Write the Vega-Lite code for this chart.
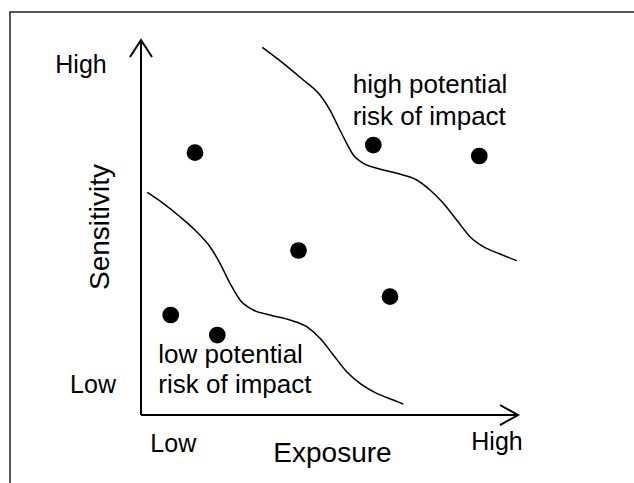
{
  "$schema": "https://vega.github.io/schema/vega-lite/v6.json",
  "width": 634,
  "height": 483,
  "autosize": "none",
  "padding": 0,
  "background": "white",
  "config": {"view": {"stroke": null}, "text": {"font": "Liberation Sans", "color": "black"}},
  "datasets": {
    "frame": [
      {"part": "frame", "i": 0, "exposure": -34.75, "sensitivity": -25},
      {"part": "frame", "i": 1, "exposure": -34.75, "sensitivity": 107.47},
      {"part": "frame", "i": 2, "exposure": 140, "sensitivity": 107.47}
    ],
    "axes": [
      {"part": "xaxis", "i": 0, "exposure": 0, "sensitivity": 0},
      {"part": "xaxis", "i": 1, "exposure": 100, "sensitivity": 0},
      {"part": "xhead", "i": 0, "exposure": 95.23, "sensitivity": 2.67},
      {"part": "xhead", "i": 1, "exposure": 100, "sensitivity": 0},
      {"part": "xhead", "i": 2, "exposure": 95.23, "sensitivity": -2.67},
      {"part": "yaxis", "i": 0, "exposure": 0, "sensitivity": 0},
      {"part": "yaxis", "i": 1, "exposure": 0, "sensitivity": 100},
      {"part": "yhead", "i": 0, "exposure": -2.92, "sensitivity": 95.47},
      {"part": "yhead", "i": 1, "exposure": 0, "sensitivity": 100},
      {"part": "yhead", "i": 2, "exposure": 2.92, "sensitivity": 95.47}
    ],
    "curves": [
      {"part": "upper", "i": 0, "exposure": 32.18, "sensitivity": 98.05},
      {"part": "upper", "i": 1, "exposure": 37.75, "sensitivity": 93.79},
      {"part": "upper", "i": 2, "exposure": 43.05, "sensitivity": 89.33},
      {"part": "upper", "i": 3, "exposure": 47.48, "sensitivity": 85.33},
      {"part": "upper", "i": 4, "exposure": 50.13, "sensitivity": 81.33},
      {"part": "upper", "i": 5, "exposure": 52.33, "sensitivity": 76.88},
      {"part": "upper", "i": 6, "exposure": 54.56, "sensitivity": 72.45},
      {"part": "upper", "i": 7, "exposure": 56.31, "sensitivity": 69.33},
      {"part": "upper", "i": 8, "exposure": 58.97, "sensitivity": 67.12},
      {"part": "upper", "i": 9, "exposure": 62.52, "sensitivity": 65.79},
      {"part": "upper", "i": 10, "exposure": 67.82, "sensitivity": 64.45},
      {"part": "upper", "i": 11, "exposure": 73.13, "sensitivity": 62.67},
      {"part": "upper", "i": 12, "exposure": 76.66, "sensitivity": 60.0},
      {"part": "upper", "i": 13, "exposure": 80.19, "sensitivity": 56.45},
      {"part": "upper", "i": 14, "exposure": 83.74, "sensitivity": 52.0},
      {"part": "upper", "i": 15, "exposure": 87.27, "sensitivity": 47.55},
      {"part": "upper", "i": 16, "exposure": 90.8, "sensitivity": 44.88},
      {"part": "upper", "i": 17, "exposure": 95.23, "sensitivity": 42.93},
      {"part": "upper", "i": 18, "exposure": 99.66, "sensitivity": 41.15},
      {"part": "lower", "i": 0, "exposure": 1.67, "sensitivity": 59.39},
      {"part": "lower", "i": 1, "exposure": 5.92, "sensitivity": 56.45},
      {"part": "lower", "i": 2, "exposure": 10.34, "sensitivity": 52.88},
      {"part": "lower", "i": 3, "exposure": 14.77, "sensitivity": 48.88},
      {"part": "lower", "i": 4, "exposure": 18.3, "sensitivity": 44.88},
      {"part": "lower", "i": 5, "exposure": 20.95, "sensitivity": 40.45},
      {"part": "lower", "i": 6, "exposure": 23.61, "sensitivity": 35.12},
      {"part": "lower", "i": 7, "exposure": 26.26, "sensitivity": 30.67},
      {"part": "lower", "i": 8, "exposure": 29.79, "sensitivity": 28.0},
      {"part": "lower", "i": 9, "exposure": 34.22, "sensitivity": 26.67},
      {"part": "lower", "i": 10, "exposure": 39.52, "sensitivity": 25.33},
      {"part": "lower", "i": 11, "exposure": 43.95, "sensitivity": 23.55},
      {"part": "lower", "i": 12, "exposure": 47.48, "sensitivity": 20.45},
      {"part": "lower", "i": 13, "exposure": 51.01, "sensitivity": 16.0},
      {"part": "lower", "i": 14, "exposure": 54.56, "sensitivity": 11.55},
      {"part": "lower", "i": 15, "exposure": 58.09, "sensitivity": 8.45},
      {"part": "lower", "i": 16, "exposure": 62.52, "sensitivity": 5.79},
      {"part": "lower", "i": 17, "exposure": 66.92, "sensitivity": 4.0},
      {"part": "lower", "i": 18, "exposure": 69.58, "sensitivity": 2.93}
    ],
    "points": [
      {"exposure": 14.32, "sensitivity": 69.95},
      {"exposure": 61.62, "sensitivity": 72.0},
      {"exposure": 89.73, "sensitivity": 69.07},
      {"exposure": 41.78, "sensitivity": 43.87},
      {"exposure": 66.05, "sensitivity": 31.55},
      {"exposure": 7.88, "sensitivity": 26.67},
      {"exposure": 20.24, "sensitivity": 21.33}
    ],
    "ticks": [
      {"label": "High", "exposure": -15.92, "sensitivity": 91.2},
      {"label": "Low", "exposure": -12.73, "sensitivity": 5.87},
      {"label": "Low", "exposure": 8.57, "sensitivity": -9.79},
      {"label": "High", "exposure": 94.43, "sensitivity": -9.33}
    ],
    "regions": [
      {"label": "high potential", "exposure": 56.15, "sensitivity": 85.79},
      {"label": "risk of impact", "exposure": 56.15, "sensitivity": 77.33},
      {"label": "low potential", "exposure": 4.6, "sensitivity": 13.95},
      {"label": "risk of impact", "exposure": 4.6, "sensitivity": 6.0}
    ],
    "xtitle": [{"label": "Exposure", "exposure": 50.8, "sensitivity": -12.45}],
    "ytitle": [{"label": "Sensitivity", "exposure": -8.49, "sensitivity": 50.13}]
  },
  "layer": [
    {
      "data": {"name": "frame"},
      "mark": {"type": "line", "stroke": "#222222", "strokeWidth": 1.5},
      "encoding": {
        "x": {"field": "exposure", "type": "quantitative", "scale": {"domain": [-37.4, 130.77], "nice": false, "zero": false}, "axis": null},
        "y": {"field": "sensitivity", "type": "quantitative", "scale": {"domain": [-18.13, 110.67], "nice": false, "zero": false}, "axis": null},
        "order": {"field": "i", "type": "quantitative"}
      }
    },
    {
      "data": {"name": "axes"},
      "mark": {"type": "line", "stroke": "black", "strokeWidth": 2, "strokeJoin": "miter"},
      "encoding": {
        "x": {"field": "exposure", "type": "quantitative", "scale": {"domain": [-37.4, 130.77], "nice": false, "zero": false}, "axis": null},
        "y": {"field": "sensitivity", "type": "quantitative", "scale": {"domain": [-18.13, 110.67], "nice": false, "zero": false}, "axis": null},
        "detail": {"field": "part", "type": "nominal"},
        "order": {"field": "i", "type": "quantitative"}
      }
    },
    {
      "data": {"name": "curves"},
      "mark": {"type": "line", "stroke": "black", "strokeWidth": 1.5, "interpolate": "monotone"},
      "encoding": {
        "x": {"field": "exposure", "type": "quantitative", "scale": {"domain": [-37.4, 130.77], "nice": false, "zero": false}, "axis": null},
        "y": {"field": "sensitivity", "type": "quantitative", "scale": {"domain": [-18.13, 110.67], "nice": false, "zero": false}, "axis": null},
        "detail": {"field": "part", "type": "nominal"},
        "order": {"field": "i", "type": "quantitative"}
      }
    },
    {
      "data": {"name": "points"},
      "mark": {"type": "circle", "fill": "black", "opacity": 1, "size": 280},
      "encoding": {
        "x": {"field": "exposure", "type": "quantitative", "scale": {"domain": [-37.4, 130.77], "nice": false, "zero": false}, "axis": null},
        "y": {"field": "sensitivity", "type": "quantitative", "scale": {"domain": [-18.13, 110.67], "nice": false, "zero": false}, "axis": null}
      }
    },
    {
      "data": {"name": "ticks"},
      "mark": {"type": "text", "fontSize": 25, "align": "center", "baseline": "alphabetic"},
      "encoding": {
        "x": {"field": "exposure", "type": "quantitative", "scale": {"domain": [-37.4, 130.77], "nice": false, "zero": false}, "axis": null},
        "y": {"field": "sensitivity", "type": "quantitative", "scale": {"domain": [-18.13, 110.67], "nice": false, "zero": false}, "axis": null},
        "text": {"field": "label", "type": "nominal"}
      }
    },
    {
      "data": {"name": "regions"},
      "mark": {"type": "text", "fontSize": 26, "align": "left", "baseline": "alphabetic"},
      "encoding": {
        "x": {"field": "exposure", "type": "quantitative", "scale": {"domain": [-37.4, 130.77], "nice": false, "zero": false}, "axis": null},
        "y": {"field": "sensitivity", "type": "quantitative", "scale": {"domain": [-18.13, 110.67], "nice": false, "zero": false}, "axis": null},
        "text": {"field": "label", "type": "nominal"}
      }
    },
    {
      "data": {"name": "xtitle"},
      "mark": {"type": "text", "fontSize": 28, "align": "center", "baseline": "alphabetic"},
      "encoding": {
        "x": {"field": "exposure", "type": "quantitative", "scale": {"domain": [-37.4, 130.77], "nice": false, "zero": false}, "axis": null},
        "y": {"field": "sensitivity", "type": "quantitative", "scale": {"domain": [-18.13, 110.67], "nice": false, "zero": false}, "axis": null},
        "text": {"field": "label", "type": "nominal"}
      }
    },
    {
      "data": {"name": "ytitle"},
      "mark": {"type": "text", "fontSize": 28, "align": "center", "baseline": "alphabetic", "angle": 270},
      "encoding": {
        "x": {"field": "exposure", "type": "quantitative", "scale": {"domain": [-37.4, 130.77], "nice": false, "zero": false}, "axis": null},
        "y": {"field": "sensitivity", "type": "quantitative", "scale": {"domain": [-18.13, 110.67], "nice": false, "zero": false}, "axis": null},
        "text": {"field": "label", "type": "nominal"}
      }
    }
  ]
}
